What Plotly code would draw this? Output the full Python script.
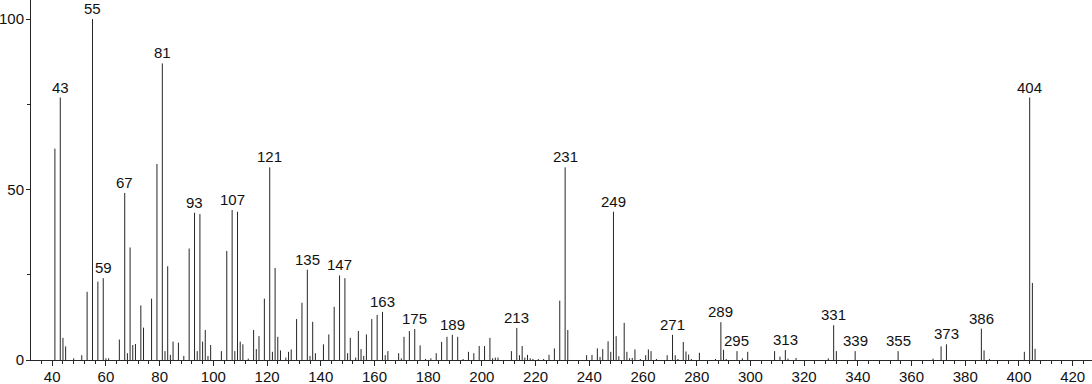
import plotly.graph_objects as go

mz = [41, 43, 44, 45, 48, 51, 53, 55, 57, 59, 60, 61, 65, 67, 68, 69, 70, 71, 73, 74,
      77, 79, 81, 82, 83, 84, 85, 87, 89, 91, 93, 94, 95, 96, 97, 98, 99, 103, 105, 107,
      108, 109, 110, 111, 113, 115, 116, 117, 119, 121, 122, 123, 124, 125, 127, 128, 129,
      131, 133, 135, 136, 137, 138, 141, 143, 145, 147, 149, 150, 151, 153, 154, 155, 156,
      157, 159, 161, 163, 164, 165, 169, 170, 171, 173, 175, 177, 179, 181, 183, 185, 187,
      189, 191, 193, 195, 197, 199, 201, 203, 204, 205, 206, 211, 213, 214, 215, 216, 217,
      218, 219, 221, 223, 225, 227, 229, 231, 232, 239, 241, 243, 244, 245, 247, 248, 249,
      250, 251, 253, 254, 255, 256, 257, 259, 261, 262, 263, 265, 269, 271, 272, 273, 275,
      276, 277, 278, 281, 287, 289, 290, 291, 295, 297, 299, 309, 311, 313, 314, 317, 329,
      331, 332, 339, 355, 368, 371, 373, 386, 387, 389, 402, 404, 405, 406]
intensity = [62, 77, 6.5, 4, 0.5, 1.4, 20, 100, 23, 24, 0.5, 0.5, 6, 49, 2, 33, 4.4, 4.7, 16, 9.5,
             18, 57.5, 87, 2.6, 27.5, 1.5, 5.4, 5.1, 1.2, 32.7, 43.2, 2.6, 42.8, 5.4, 8.8, 1.2, 4.4, 2.6, 32, 44,
             2.6, 43.5, 5.4, 4.6, 0.4, 8.8, 3.2, 7, 18, 56.5, 2.4, 27, 6.8, 2.8, 0.7, 2.4, 3.1,
             12, 16.8, 26.5, 1.2, 11.2, 2, 4.6, 7.5, 15.6, 24.8, 24, 2, 6.5, 0.7, 8.5, 3.2, 1.2,
             7.5, 12, 13.2, 14.1, 1.4, 2.6, 2, 0.5, 6.8, 8.5, 9.1, 4.3, 0.3, 0.5, 2, 5.3, 6.8,
             7.4, 6.8, 0.3, 2.4, 2, 4.1, 4.1, 6.5, 0.5, 0.7, 0.7, 2.6, 9.4, 1.4, 4.1, 0.7, 1.5,
             0.5, 0.3, 0.3, 0.3, 1.5, 3.4, 17.4, 56.5, 8.8, 1.4, 1.5, 3.4, 0.9, 3.2, 5.5, 2.4, 43.5,
             7, 1.1, 10.9, 2.4, 0.5, 0.6, 3.1, 0.3, 1.4, 3.1, 2.6, 0.3, 1.4, 7.4, 1.4, 0.3, 5.3,
             2.5, 1.6, 0.3, 2.1, 0.3, 11.1, 3, 0.3, 2.6, 0.5, 2.4, 2.6, 1, 2.9, 0.4, 0.6, 0.5,
             10.2, 2.6, 2.6, 2.6, 0.4, 4, 4.6, 9.2, 2.8, 0.3, 2.4, 77, 22.6, 3.3]
labeled = [43, 55, 59, 67, 81, 93, 107, 121, 135, 147, 163, 175, 189, 213, 231, 249, 271,
           289, 295, 313, 331, 339, 355, 373, 386, 404]

xs, ys = [], []
for m, v in zip(mz, intensity):
    xs += [m, m, None]
    ys += [0, v, None]

fig = go.Figure()
fig.add_trace(go.Scatter(x=xs, y=ys, mode="lines",
                         line=dict(color="#262626", width=1),
                         hoverinfo="skip", showlegend=False))

FONT = "Liberation Sans, Arial"
lookup = dict(zip(mz, intensity))
for m in labeled:
    fig.add_annotation(x=m, y=lookup[m], text=str(m), showarrow=False,
                       yanchor="bottom", yshift=0,
                       font=dict(family=FONT, size=15, color="#111111"))

fig.update_layout(
    width=1092, height=384,
    margin=dict(l=31, r=0, t=0, b=24),
    plot_bgcolor="white", paper_bgcolor="white",
    showlegend=False,
    xaxis=dict(range=[32.1, 427.2], showgrid=False, zeroline=False,
               showline=True, linecolor="#262626", linewidth=1,
               tickmode="linear", tick0=40, dtick=20, ticks="outside", ticklen=5,
               tickcolor="#262626", ticklabelstandoff=-2,
               minor=dict(dtick=4, tick0=40, ticks="outside", ticklen=3, tickcolor="#262626"),
               tickfont=dict(family=FONT, size=15, color="#111111")),
    yaxis=dict(range=[0, 105.6], showgrid=False, zeroline=False,
               showline=True, linecolor="#262626", linewidth=1,
               tickmode="linear", tick0=0, dtick=50, ticks="outside", ticklen=4,
               tickcolor="#262626", ticklabelstandoff=-1,
               minor=dict(dtick=25, ticks="outside", ticklen=3, tickcolor="#262626"),
               tickfont=dict(family=FONT, size=15, color="#111111")),
)

fig.write_html("out.html")
